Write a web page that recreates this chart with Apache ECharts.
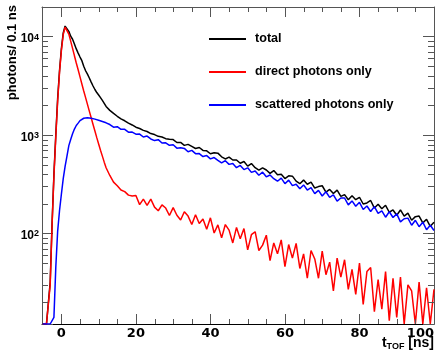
<!DOCTYPE html>
<html><head><meta charset="utf-8">
<script src="https://cdn.jsdelivr.net/npm/echarts@6/dist/echarts.min.js"></script>
<style>html,body{margin:0;padding:0;background:#fff}#c{width:446px;height:354px}</style>
</head><body><div id="c"></div>
<script>
const tValues = [-5,-4.5,-4,-3.5,-3,-2.5,-2,-1.5,-1,-0.5,0,0.5,1,1.5,2,2.5,3,3.5,4,4.5,5,5.5,6,6.5,7,7.5,8,8.5,9,9.5,10,10.5,11,11.5,12,
13,14,15,16,17,18,19,20,21,22,23,24,25,26,27,28,29,30,31,32,33,34,35,36,37,38,39,40,41,42,43,44,45,46,47,48,49,50,
51,52,53,54,55,56,57,58,59,60,61,62,63,64,65,66,67,68,69,70,71,72,73,74,75,76,77,78,79,80,81,82,83,84,85,86,87,88,89,90,
91,92,93,94,95,96,97,98,99,100];

const totalCounts = [12,12,12,12,32,125,400,1000,2350,4500,7500,10900,12800,12500,11300,10100,9400,8400,7500,6800,6200,5700,5000,4500,4150,3800,3450,3150,2900,2700,2550,2400,2250,2100,1950,
1780,1660,1550,1460,1395,1320,1265,
1200,1165,1115,1085,1035,1010,970,955,918,905,
898,839,840,785,803,765,729,746,697,691,
645,660,654,600,571,596,557,558,516,538,
483,513,466,440,464,441,408,435,394,399,
361,385,382,340,320,348,316,332,289,299,
305,263,280,254,275,238,248,220,242,220,
233,199,204,216,181,198,178,193,164,173,
153,173,150,161,136,148,150,128,139,118,130];

const directCounts = [12,12,12,12,30,120,380,950,2200,4300,7200,10500,12500,12000,10600,9000,7600,6400,5400,4600,3900,3300,2800,2400,2050,1750,1500,1280,1100,940,810,700,610,530,465,
388,332,305,276,266,245,240,
243,196,223,193,223,185,170,195,181,152,
183,153,137,166,150,123,155,126,140,110,
144,101,122,90,123,108,80,115,88,112,
68,97,104,67,76,96,53,80,62,86,
46,77,56,79,44,62,35,67,55,35,
66,38,51,26,56,36,54,27,43,24,
50,19,41,45,16,34,17,41,13,35,
14,36,12,30,26,12,32,12,28,12,27];

const scatteredCounts = [12,12,12,12,12,12,14,45,105,170,250,360,480,610,780,900,1030,1150,1250,1320,1400,1390,1480,1440,1500,1450,1480,1420,1450,1390,1410,1360,1370,1320,1330,
1278,1200,1214,1143,1142,1068,1071,
1020,1022,955,975,912,878,897,830,832,785,
795,735,744,731,676,698,646,647,604,618,
572,590,552,520,548,503,514,466,491,445,
464,417,430,390,419,376,392,360,339,364,
320,348,306,316,284,311,276,292,254,274,
240,265,232,247,213,229,229,195,214,189,
207,175,190,167,187,160,169,146,166,145,
158,131,141,143,121,136,117,130,109,121,107];

const seriesNames = ['total', 'direct photons only', 'scattered photons only'];
const xTickLabels = [0, 20, 40, 60, 80, 100];
const xMinorTicks = [5,10,15,25,30,35,45,50,55,65,70,75,85,90,95];
const yMinorTicks = [20,30,40,50,60,70,80,90,200,300,400,500,600,700,800,900,2000,3000,4000,5000,6000,7000,8000,9000];
const xTitle = 't{sub|TOF} [ns]';
const yTitle = 'photons/ 0.1 ns';

const X_MIN = -5.2, X_MAX = 100, Y_MIN = 12, Y_MAX = 20000;
const FONT = '"Liberation Sans", Arial, sans-serif';
const FRAME = '#555';

const chart = echarts.init(document.getElementById('c'), null, {renderer: 'canvas'});

function pairs(arr) { return tValues.map((t, i) => [t, arr[i]]); }

function minorTicks(dim, len) {
  return function (params, api) {
    const cs = params.coordSys;
    const p = api.coord([api.value(0), api.value(1)]);
    let segs;
    if (dim === 'y') {
      const y = Math.round(p[1]) + 0.5;
      segs = [[cs.x, y, cs.x + len, y], [cs.x + cs.width - len, y, cs.x + cs.width, y]];
    } else {
      const x = Math.round(p[0]) + 0.5;
      segs = [[x, cs.y + cs.height, x, cs.y + cs.height - len], [x, cs.y, x, cs.y + len]];
    }
    return {
      type: 'group',
      children: segs.map(s => ({
        type: 'line',
        shape: {x1: s[0], y1: s[1], x2: s[2], y2: s[3]},
        style: {stroke: FRAME, lineWidth: 1}
      }))
    };
  };
}

function isDecade(v) {
  const e = Math.round(Math.log10(v));
  return Math.abs(v - Math.pow(10, e)) < 1e-6 * v ? e : null;
}

const lineColors = ['#000000', '#ff0000', '#0000ff'];
const dataSets = [totalCounts, directCounts, scatteredCounts];

const option = {
  animation: false,
  backgroundColor: '#ffffff',
  grid: {left: 42, right: 12, top: 7, bottom: 30, containLabel: false},
  legend: {
    data: seriesNames,
    orient: 'vertical',
    left: 209, top: 32, padding: 0,
    icon: 'rect',
    itemWidth: 37, itemHeight: 2,
    itemGap: 19,
    textStyle: {fontFamily: FONT, fontWeight: 'bold', fontSize: 12.6, color: '#000', lineHeight: 14, padding: [0, 0, 0, 4]}
  },
  xAxis: [{
    type: 'value', min: X_MIN, max: X_MAX, position: 'bottom',
    splitLine: {show: false},
    axisLine: {show: true, onZero: false, lineStyle: {color: '#000', width: 1}},
    axisTick: {show: true, inside: true, length: 10, lineStyle: {color: FRAME}},
    axisLabel: {
      margin: 3, color: '#000', fontFamily: '"DejaVu Sans", sans-serif', fontWeight: 'bold', fontSize: 13,
      alignMaxLabel: 'right',
      formatter: v => xTickLabels.indexOf(v) >= 0 ? String(v) : ''
    }
  }, {
    type: 'value', min: X_MIN, max: X_MAX, position: 'top',
    splitLine: {show: false},
    axisLine: {show: true, onZero: false, lineStyle: {color: FRAME, width: 1}},
    axisTick: {show: true, inside: true, length: 10, lineStyle: {color: FRAME}},
    axisLabel: {show: false}
  }],
  yAxis: [{
    type: 'log', logBase: 10, min: Y_MIN, max: Y_MAX, position: 'left',
    splitLine: {show: false},
    axisLine: {show: true, onZero: false, lineStyle: {color: FRAME, width: 1}},
    axisTick: {show: true, inside: true, length: 11, lineStyle: {color: FRAME}},
    axisLabel: {
      margin: 3, color: '#000',
      formatter: v => { const e = isDecade(v); return e === null ? '' : '{b|10}{s|' + e + '}'; },
      rich: {
        b: {fontFamily: FONT, fontWeight: 'bold', fontSize: 12, lineHeight: 16, padding: [5, 0, 0, 0], color: '#000'},
        s: {fontFamily: FONT, fontWeight: 'bold', fontSize: 9, lineHeight: 10, padding: [4, 0, 0, 0], verticalAlign: 'top', color: '#000'}
      }
    }
  }, {
    type: 'log', logBase: 10, min: Y_MIN, max: Y_MAX, position: 'right',
    splitLine: {show: false},
    axisLine: {show: true, onZero: false, lineStyle: {color: FRAME, width: 1}},
    axisTick: {show: true, inside: true, length: 11, lineStyle: {color: FRAME}},
    axisLabel: {show: false}
  }],
  graphic: [{
    type: 'text', left: 6, top: 5,
    style: {text: yTitle, font: 'bold 13px ' + FONT, fill: '#000'},
    rotation: Math.PI / 2, originX: 0, originY: 0
  }, {
    type: 'text', right: 12, top: 336,
    style: {
      text: xTitle, fill: '#000',
      rich: {
        sub: {fontFamily: FONT, fontWeight: 'bold', fontSize: 9, padding: [7, 0, 0, 0], verticalAlign: 'bottom'}
      },
      font: 'bold 14px ' + FONT
    }
  }],
  series: dataSets.map((d, i) => ({
    name: seriesNames[i],
    type: 'line',
    xAxisIndex: 0, yAxisIndex: 0,
    data: pairs(d),
    showSymbol: false, symbol: 'none',
    lineStyle: {color: lineColors[i], width: 1.5},
    itemStyle: {color: lineColors[i]},
    clip: true,
    z: 2 + i
  })).concat([{
    type: 'custom', xAxisIndex: 0, yAxisIndex: 0, silent: true, z: 10,
    data: yMinorTicks.map(v => [0, v]),
    renderItem: minorTicks('y', 6)
  }, {
    type: 'custom', xAxisIndex: 0, yAxisIndex: 0, silent: true, z: 10,
    data: xMinorTicks.map(v => [v, 100]),
    renderItem: minorTicks('x', 5)
  }])
};
chart.setOption(option);
</script></body></html>
